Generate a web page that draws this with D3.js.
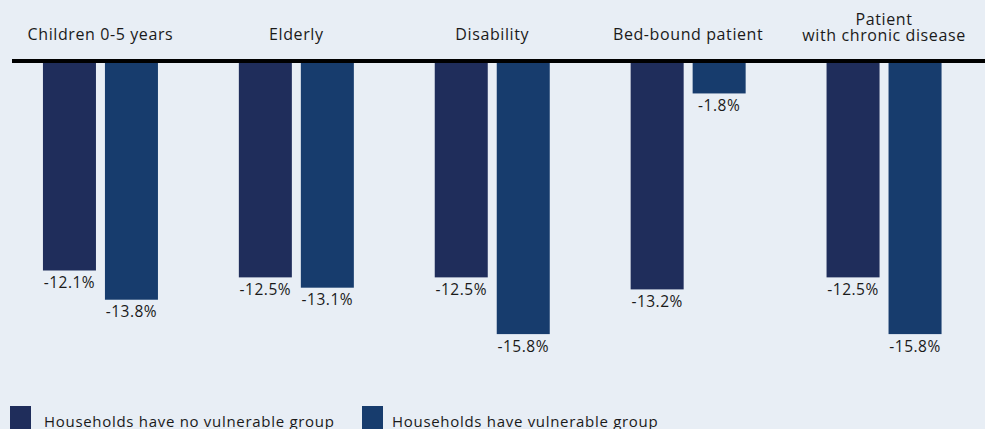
<!DOCTYPE html>
<html>
<head>
<meta charset="utf-8">
<script src="https://cdn.jsdelivr.net/npm/d3@7"></script>
<style>
  html, body { margin: 0; padding: 0; background: #e8eef5; }
  svg { display: block; font-family: "Open Sans", "Noto Sans", sans-serif; }
</style>
</head>
<body>
<svg id="chart" width="985" height="429"></svg>
<script>
// Change in household figures by vulnerable group (%)
const categories = ["Children 0-5 years", "Elderly", "Disability", "Bed-bound patient", "Patient\nwith chronic disease"];
const noVulnerable = [-12.1, -12.5, -12.5, -13.2, -12.5];
const withVulnerable = [-13.8, -13.1, -15.8, -1.8, -15.8];
const seriesNames = ["Households have no vulnerable group", "Households have vulnerable group"];
const seriesColors = ["#1f2d5b", "#173c6d"];

const width = 985, height = 429;
const svg = d3.select("#chart");

const x0 = d3.scaleBand().domain(categories).range([2.5, 982]).padding(0);
const x1 = d3.scaleBand().domain([0, 1])
  .range([x0.bandwidth() / 2 - 57.5, x0.bandwidth() / 2 + 57.5])
  .paddingInner(0.145).paddingOuter(0);
const y = d3.scaleLinear().domain([0, -16]).range([62.5, 62.5 + 16 * 17.19]);
const color = d3.scaleOrdinal().domain([0, 1]).range(seriesColors);

const rows = categories.map((c, i) => ({ cat: c, values: [noVulnerable[i], withVulnerable[i]] }));

// Bars
const groups = svg.append("g").selectAll("g").data(rows).join("g")
  .attr("transform", d => `translate(${x0(d.cat)},0)`);

groups.selectAll("rect").data(d => d.values.map((v, k) => ({ k, v }))).join("rect")
  .attr("x", d => x1(d.k))
  .attr("width", x1.bandwidth())
  .attr("y", y(0))
  .attr("height", d => y(d.v) - y(0))
  .attr("fill", d => color(d.k));

// Value labels under each bar
groups.selectAll("text.value").data(d => d.values.map((v, k) => ({ k, v }))).join("text")
  .attr("class", "value")
  .attr("x", d => x1(d.k) + x1.bandwidth() / 2)
  .attr("y", d => y(d.v) + 17.5)
  .attr("text-anchor", "middle")
  .attr("font-size", 15.5)
  .attr("letter-spacing", 0.5)
  .attr("fill", "#1a1a1a")
  .text(d => d.v.toFixed(1) + "%");

// Zero line
svg.append("line")
  .attr("x1", 12).attr("x2", width)
  .attr("y1", y(0) - 1.5).attr("y2", y(0) - 1.5)
  .attr("stroke", "#000").attr("stroke-width", 4);

// Category labels along the top
svg.append("g").selectAll("text").data(categories).join("text")
  .attr("text-anchor", "middle")
  .attr("font-size", 16)
  .attr("letter-spacing", 0.6)
  .attr("fill", "#1a1a1a")
  .each(function (d) {
    const lines = d.split("\n");
    const cx = x0(d) + x0.bandwidth() / 2;
    const t = d3.select(this);
    lines.forEach((ln, i) => {
      t.append("tspan")
        .attr("x", cx)
        .attr("y", lines.length === 1 ? 40 : 25 + i * 16)
        .text(ln);
    });
  });

// Legend
const legendX = [10, 362];
const legend = svg.append("g").selectAll("g").data(seriesNames).join("g")
  .attr("transform", (d, i) => `translate(${legendX[i]},406)`);
legend.append("rect")
  .attr("width", 21).attr("height", 23)
  .attr("fill", (d, i) => color(i));
legend.append("text")
  .attr("x", (d, i) => i === 0 ? 34 : 30)
  .attr("y", 20.5)
  .attr("font-size", 15)
  .attr("letter-spacing", 0.7)
  .attr("fill", "#1a1a1a")
  .text(d => d);
</script>
</body>
</html>
